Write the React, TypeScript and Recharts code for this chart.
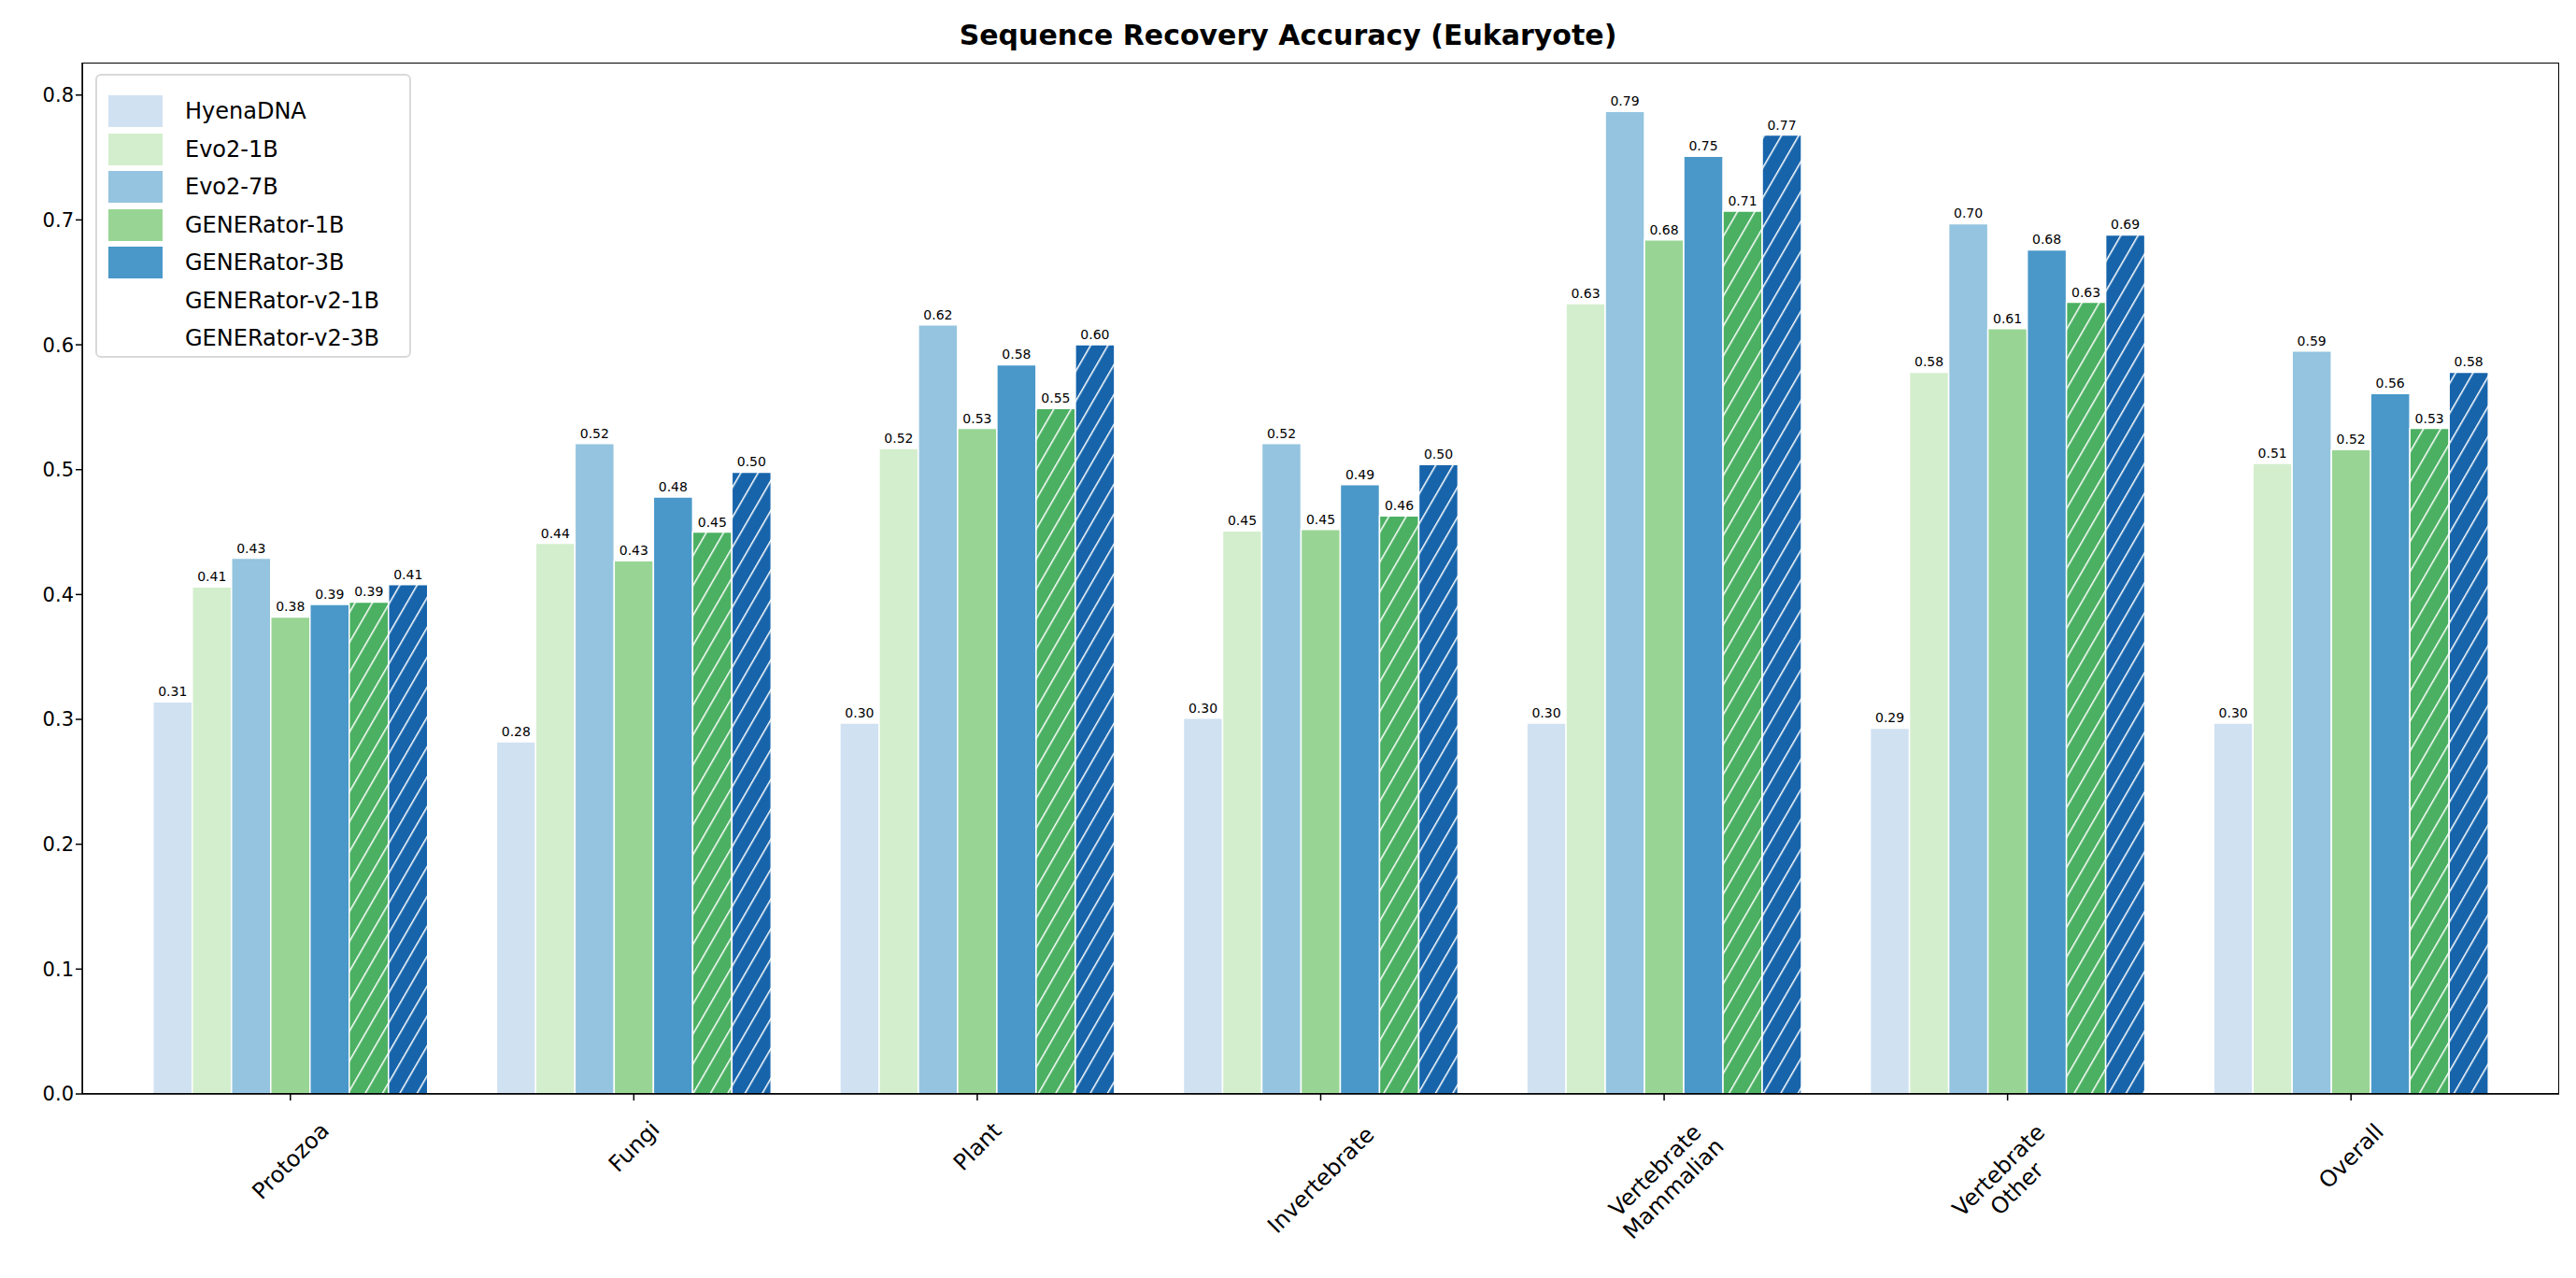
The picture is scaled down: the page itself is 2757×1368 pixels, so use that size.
import React from 'react';
import { BarChart, Bar, XAxis, YAxis, LabelList } from 'recharts';

const categories = ['Protozoa', 'Fungi', 'Plant', 'Invertebrate', 'Vertebrate\nMammalian', 'Vertebrate\nOther', 'Overall'];
const seriesNames = ['HyenaDNA', 'Evo2-1B', 'Evo2-7B', 'GENERator-1B', 'GENERator-3B', 'GENERator-v2-1B', 'GENERator-v2-3B'];
const hyena = [0.314, 0.282, 0.297, 0.301, 0.297, 0.293, 0.297];
const evo1b = [0.406, 0.441, 0.517, 0.451, 0.633, 0.578, 0.505];
const evo7b = [0.429, 0.521, 0.616, 0.521, 0.787, 0.697, 0.595];
const gen1b = [0.382, 0.427, 0.533, 0.452, 0.684, 0.613, 0.516];
const gen3b = [0.392, 0.478, 0.584, 0.488, 0.751, 0.676, 0.561];
const genV21b = [0.394, 0.450, 0.549, 0.463, 0.707, 0.634, 0.533];
const genV23b = [0.408, 0.498, 0.600, 0.504, 0.768, 0.688, 0.578];
const yTicks = [0, 0.1, 0.2, 0.3, 0.4, 0.5, 0.6, 0.7, 0.8];

const seriesValues = [hyena, evo1b, evo7b, gen1b, gen3b, genV21b, genV23b];
const COLORS = ['#d0e1f2', '#d3eecd', '#94c4df', '#98d594', '#4a98c9', '#4bb062', '#1764ab'];
const HATCHED = [false, false, false, false, false, true, true];

const data = categories.map((c, i) => {
  const row: any = { name: c };
  seriesNames.forEach((s, k) => (row[s] = seriesValues[k][i]));
  return row;
});

const W = 2741;
const H = 1352;
const M = { top: 59, right: 10, bottom: 39, left: 10 };
const Y_W = 70;
const X_H = 150;
const FONT = 'DejaVu Sans, sans-serif';

const CatTick = (props: any) => {
  const { x, y, payload } = props;
  const lines = String(payload.value).split('\n');
  const fs = 24;
  const longest = Math.max(...lines.map((l) => l.length)) * fs * 0.6;
  const h = lines.length * fs * 1.15;
  const half = (longest + h) * 0.707 / 2;
  return (
    <g transform={`translate(${x},${y + 12 + half}) rotate(-45)`}>
      <text textAnchor="middle" fontSize={fs} fontFamily={FONT} fill="#000">
        {lines.map((l, i) => (
          <tspan key={i} x={0} dy={i === 0 ? (-(lines.length - 1) * fs * 1.15) / 2 + fs * 0.35 : fs * 1.15}>
            {l}
          </tspan>
        ))}
      </text>
    </g>
  );
};

export default function App() {
  return (
    <div style={{ position: 'relative', width: W, height: H, background: '#fff', fontFamily: FONT }}>
      <div style={{ position: 'absolute', top: 12, width: W, textAlign: 'center', fontSize: 30, fontWeight: 'bold' }}>
        Sequence Recovery Accuracy (Eukaryote)
      </div>
      <BarChart width={W} height={H} data={data} margin={M} barCategoryGap="10%" barGap={0}>
        <defs>
          {COLORS.map((c, i) => (
            <pattern key={i} id={`hatch${i}`} patternUnits="userSpaceOnUse" width={16} height={16} patternTransform="rotate(30)">
              <rect width={16} height={16} fill={c} />
              <line x1={0} y1={0} x2={0} y2={16} stroke="#fff" strokeWidth={3} />
            </pattern>
          ))}
        </defs>
        <XAxis
          dataKey="name"
          interval={0}
          height={X_H}
          tick={<CatTick />}
          tickLine={{ stroke: '#000', strokeWidth: 1.5 }}
          tickSize={7}
          axisLine={{ stroke: '#000', strokeWidth: 1.5 }}
          padding={{ left: 39, right: 39 }}
        />
        <YAxis
          width={Y_W}
          domain={[0, 0.826]}
          ticks={yTicks}
          allowDataOverflow
          tickFormatter={(v: number) => v.toFixed(1)}
          tick={{ fontSize: 21, fill: '#000', fontFamily: FONT }}
          tickLine={{ stroke: '#000', strokeWidth: 1.5 }}
          tickSize={7}
          axisLine={{ stroke: '#000', strokeWidth: 1.5 }}
        />
        {seriesNames.map((s, i) => (
          <Bar
            key={s}
            dataKey={s}
            fill={HATCHED[i] ? `url(#hatch${i})` : COLORS[i]}
            stroke="#fff"
            strokeWidth={1.5}
            isAnimationActive={false}
          >
            <LabelList
              dataKey={s}
              position="top"
              offset={6}
              formatter={(v: any) => Number(v).toFixed(2)}
              style={{ fontSize: 14, fill: '#000', fontFamily: FONT }}
            />
          </Bar>
        ))}
      </BarChart>
      <div
        style={{
          position: 'absolute',
          left: M.left + Y_W,
          top: M.top,
          width: W - M.left - Y_W - M.right,
          height: H - M.top - M.bottom - X_H,
          border: '1.5px solid #000',
          boxSizing: 'border-box',
          pointerEvents: 'none',
        }}
      />
      <div
        style={{
          position: 'absolute',
          left: 94,
          top: 71,
          width: 338,
          height: 304,
          border: '2px solid #d9d9d9',
          borderRadius: 6,
          background: 'rgba(255,255,255,0.85)',
          boxSizing: 'border-box',
          padding: '18px 0 0 12px',
        }}
      >
        {seriesNames.map((s, i) => (
          <div key={s} style={{ display: 'flex', alignItems: 'center', height: 40.5, fontSize: 24 }}>
            <svg width={58} height={34} style={{ marginRight: 24 }}>
              <rect x={0} y={0} width={58} height={34} fill={HATCHED[i] ? `url(#lg${i})` : COLORS[i]} />
              {HATCHED[i] && (
                <g stroke="#fff" strokeWidth={3}>
                  {[0, 18, 36, 54].map((o) => (
                    <line key={o} x1={o - 6} y1={34} x2={o + 14} y2={0} />
                  ))}
                </g>
              )}
            </svg>
            <span>{s}</span>
          </div>
        ))}
      </div>
    </div>
  );
}
